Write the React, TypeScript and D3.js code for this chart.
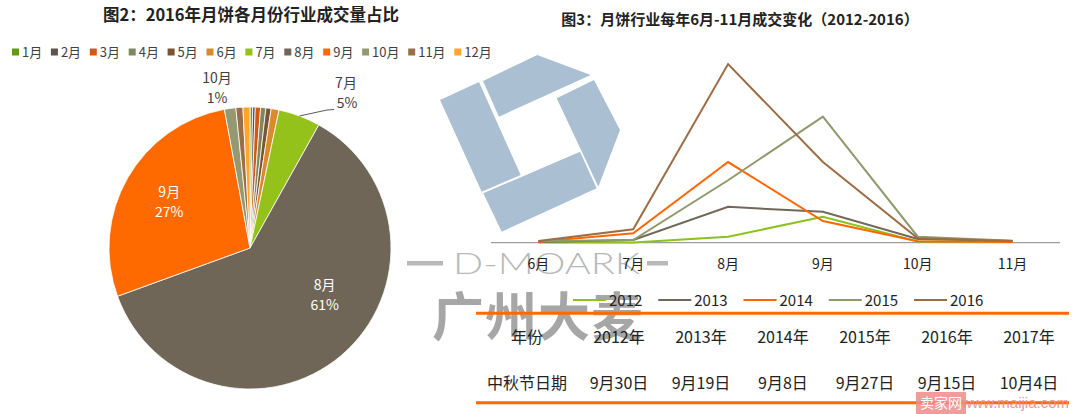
import React from "react";
import * as d3 from "d3";

// ---- pie data (图2) ----
const pieMonths = ["1月", "2月", "3月", "4月", "5月", "6月", "7月", "8月", "9月", "10月", "11月", "12月"];
const pieShares = [0.3, 0.3, 0.6, 0.6, 0.6, 0.9, 4.8, 61.2, 27.6, 1.3, 0.8, 0.8];
const pieColors = ["#64981c", "#5a554e", "#d4580f", "#7e875d", "#7a5434", "#da8a2a", "#94c11a", "#706657", "#ff6a00", "#939a72", "#9a6e48", "#ffa52b"];

// ---- line data (图3) ----
const lineMonths = ["6月", "7月", "8月", "9月", "10月", "11月"];
const years = ["2012", "2013", "2014", "2015", "2016"];
const v2012 = [0.2, 0.2, 6, 26, 1.2, 0.7];
const v2013 = [0.7, 2.7, 36, 31, 3.7, 1.7];
const v2014 = [1, 9.4, 81, 21.7, 1.4, 0.7];
const v2015 = [1.5, 2.7, 62.7, 126.7, 6, 2];
const v2016 = [1.7, 13.4, 179.4, 81, 4.4, 1.7];
const lineColors = ["#8cc21c", "#716859", "#ff6600", "#8f9a6c", "#9c6c45"];

// ---- table ----
const tableYears = ["2012年", "2013年", "2014年", "2015年", "2016年", "2017年"];
const festivalDates = ["9月30日", "9月19日", "9月8日", "9月27日", "9月15日", "10月4日"];

const CJK = "'Noto Sans CJK SC', 'Microsoft YaHei', sans-serif";

export default function App() {
  // pie
  const cx = 250,
    cy = 248,
    r = 141;
  const pie = d3.pie<number>().sort(null).value((d) => d);
  const arcs = pie(pieShares);
  const arc = d3.arc<d3.PieArcDatum<number>>().innerRadius(0).outerRadius(r);

  // label placement: [angle deg from 12 o'clock, radius]
  const pos = (deg: number, rad: number) => {
    const a = (deg * Math.PI) / 180;
    return [cx + rad * Math.sin(a), cy - rad * Math.cos(a)];
  };
  const midDeg = (i: number) => (((arcs[i].startAngle + arcs[i].endAngle) / 2) * 180) / Math.PI;
  const l8 = pos(122, 88);
  const l9 = pos(midDeg(8), 93);
  const leadStart = pos(midDeg(6), r);

  // legend x positions
  let lx = 12;
  const legendX = pieMonths.map((m) => {
    const x = lx;
    lx += 31.7 + 7.2 * (m.length - 1);
    return x;
  });

  // line chart
  const x = d3.scaleBand().domain(lineMonths).range([491, 1060]);
  const y = d3.scaleLinear().domain([0, 180]).range([242.7, 63.5]);
  const series = [v2012, v2013, v2014, v2015, v2016];
  const line = d3
    .line<number>()
    .x((d, i) => x(lineMonths[i])! + x.bandwidth() / 2)
    .y((d) => y(d));
  const legendScale = d3.scalePoint().domain(years).range([573, 914]);
  const col = d3.scalePoint().domain(tableYears).range([619, 1029]);

  return (
    <svg width={1076} height={414} style={{ position: "absolute", left: 0, top: 0, background: "#fff" }}>
      {/* titles */}
      <text x={251} y={21} textAnchor="middle" fontFamily={CJK} fontWeight="bold" fontSize={16.5} fill="#222">
        图2：2016年月饼各月份行业成交量占比
      </text>
      <text x={740} y={25} textAnchor="middle" fontFamily={CJK} fontWeight="bold" fontSize={15} fill="#222">
        图3：月饼行业每年6月-11月成交变化（2012-2016）
      </text>

      {/* pie legend */}
      {pieMonths.map((m, i) => (
        <g key={m}>
          <rect x={legendX[i]} y={48.5} width={7} height={7} fill={pieColors[i]} />
          <text x={legendX[i] + 10} y={57} fontFamily={CJK} fontSize={13} fill="#404040">
            {m}
          </text>
        </g>
      ))}

      {/* pie */}
      <g transform={`translate(${cx},${cy})`}>
        {arcs.map((a, i) => (
          <path key={i} d={arc(a)!} fill={pieColors[i]} stroke="#fff" strokeWidth={0.8} />
        ))}
      </g>
      <text x={l9[0]} y={l9[1] - 5} textAnchor="middle" fontFamily={CJK} fontSize={14} fill="#fff">9月</text>
      <text x={l9[0]} y={l9[1] + 15} textAnchor="middle" fontFamily={CJK} fontSize={14} fill="#fff">27%</text>
      <text x={l8[0]} y={l8[1] - 5} textAnchor="middle" fontFamily={CJK} fontSize={14} fill="#fff">8月</text>
      <text x={l8[0]} y={l8[1] + 15} textAnchor="middle" fontFamily={CJK} fontSize={14} fill="#fff">61%</text>
      <polyline
        points={`${leadStart[0]},${leadStart[1]} 327,110 334,109.5`}
        fill="none"
        stroke="#595959"
        strokeWidth={1}
      />
      <text x={346} y={88} textAnchor="middle" fontFamily={CJK} fontSize={14} fill="#404040">7月</text>
      <text x={347} y={108} textAnchor="middle" fontFamily={CJK} fontSize={14} fill="#404040">5%</text>
      <text x={217} y={83} textAnchor="middle" fontFamily={CJK} fontSize={14} fill="#404040">10月</text>
      <text x={217} y={103} textAnchor="middle" fontFamily={CJK} fontSize={14} fill="#404040">1%</text>

      {/* watermark logo */}
      <g fill="#abbfd3">
        <polygon points="483,81 537.3,55 590.7,75 499,116.7" />
        <polygon points="440,100 479,82 520.7,175 481.7,191.7" />
        <polygon points="556.7,98.3 594,80 620,130 598.3,186.7" />
        <polygon points="483.3,193.3 580,151.7 596.7,188.3 501.7,231.7" />
      </g>
      <g fill="#b9b9b9">
        <rect x={407} y={261} width={36} height={4.5} />
        <rect x={647} y={261} width={21} height={4.5} />
        <text
          x={453}
          y={274}
          fontFamily="Lato, 'Liberation Sans', Arial, sans-serif"
          fontWeight={300}
          fontSize={29}
          textLength={187}
          lengthAdjust="spacingAndGlyphs"
        >
          D-MOARK
        </text>
      </g>
      <text x={432} y={336} fontFamily={CJK} fontWeight="bold" fontSize={52} fill="#a6a6a6" letterSpacing={1}>
        广州大麦
      </text>

      {/* line chart */}
      <line x1={491} x2={1060} y1={242.7} y2={242.7} stroke="#868686" strokeWidth={1} />
      {series.map((s, i) => (
        <path key={years[i]} d={line(s)!} fill="none" stroke={lineColors[i]} strokeWidth={2} />
      ))}
      {lineMonths.map((m) => (
        <text
          key={m}
          x={x(m)! + x.bandwidth() / 2}
          y={268.5}
          textAnchor="middle"
          fontFamily={CJK}
          fontSize={14}
          fill="#222"
        >
          {m}
        </text>
      ))}
      {years.map((yr, i) => (
        <g key={yr}>
          <line
            x1={legendScale(yr)!}
            x2={legendScale(yr)! + 33}
            y1={300}
            y2={300}
            stroke={lineColors[i]}
            strokeWidth={2}
          />
          <text x={legendScale(yr)! + 36} y={305.5} fontFamily={CJK} fontSize={15} fill="#222">
            {yr}
          </text>
        </g>
      ))}

      {/* table */}
      <line x1={476} x2={1069} y1={313.3} y2={313.3} stroke="#ff6a00" strokeWidth={3} />
      <text x={527} y={343} textAnchor="middle" fontFamily={CJK} fontSize={16} fill="#222">年份</text>
      <text x={527} y={389} textAnchor="middle" fontFamily={CJK} fontSize={16} fill="#222">中秋节日期</text>
      {tableYears.map((t, i) => (
        <g key={t}>
          <text x={col(t)!} y={343} textAnchor="middle" fontFamily={CJK} fontSize={16} fill="#222">
            {t}
          </text>
          <text x={col(t)!} y={389} textAnchor="middle" fontFamily={CJK} fontSize={16} fill="#222">
            {festivalDates[i]}
          </text>
        </g>
      ))}
      <line x1={476} x2={1069} y1={402.7} y2={402.7} stroke="#ff6a00" strokeWidth={3} />

      {/* site watermark */}
      <rect x={916} y={392} width={50} height={22} fill="#f08a8a" opacity={0.85} />
      <text x={941} y={408} textAnchor="middle" fontFamily={CJK} fontSize={14} fill="#fff">卖家网</text>
      <text x={1069} y={408} textAnchor="end" fontFamily="'Liberation Sans', Arial, sans-serif" fontSize={15} fill="#f08a8a" opacity={0.9}>
        www.maijia.com
      </text>
    </svg>
  );
}
